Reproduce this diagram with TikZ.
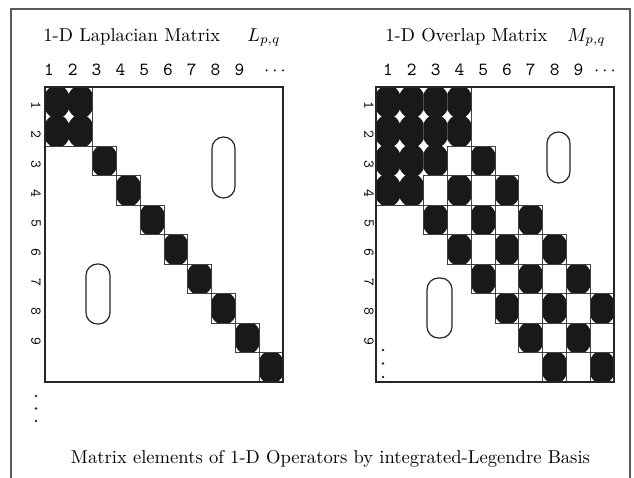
\documentclass[tikz,border=0pt]{standalone}
\newcommand\mxB[2]{\begin{scope}\clip (#1-1,#2-1) rectangle (#1,#2);\fill[cellfill] (#1-0.5,#2-0.5) ellipse [x radius=13.5pt,y radius=16.7pt];\end{scope}}
\newcommand\mxBox[2]{\draw[cellline] (#1-1,#2-1) rectangle (#1,#2);}
\begin{document}
\begin{tikzpicture}[x=1pt,y=-1pt,
  frameline/.style={draw=black!65, line width=1.2pt},
  mxborder/.style={draw=black!85, line width=1.6pt},
  cellline/.style={draw=black!75, line width=0.9pt},
  cellfill/.style={fill=black!90},
  ovalline/.style={draw=black!85, line width=1.2pt, rounded corners=11.4pt},
  titletext/.style={font=\fontsize{10}{12}\selectfont, inner sep=0pt, scale=1.86},
  collabel/.style={font=\ttfamily\fontsize{10}{12}\selectfont, inner sep=0pt, anchor=base, scale=1.85},
  rowlabel/.style={font=\ttfamily\fontsize{10}{12}\selectfont, inner sep=0pt, rotate=-90, scale=1.5},
  vdot/.style={fill=black!85},
]
\useasboundingbox (0,0) rectangle (634,477);
\fill[white] (0,0) rectangle (634,477);
\draw[frameline] (11,478) -- (11,9) -- (630,9) -- (630,478);

% titles
\node[titletext, anchor=base west] (tL) at (43,41) {1-D Laplacian Matrix};
\node[titletext, anchor=base west] (sL) at (247,41) {$L_{p,q}$};
\node[titletext, anchor=base west] (tM) at (385,41) {1-D Overlap Matrix};
\node[titletext, anchor=base west] (sM) at (567,41) {$M_{p,q}$};

% column labels
\foreach \i in {1,...,9}{
  \node[collabel] (cL\i) at ({49+23.8*(\i-1)},75) {\i};
  \node[collabel] (cM\i) at ({388+23.8*(\i-1)},75) {\i};
}
\node[collabel] (cdL) at (275,75) {$\cdots$};
\node[collabel] (cdM) at (605,75) {$\cdots$};

% row labels
\foreach \r in {1,...,9}{
  \node[rowlabel] (rL\r) at (36,{87+(\r-0.5)*29.5+3.5}) {\r};
  \node[rowlabel] (rM\r) at (369,{87+(\r-0.5)*29.5+3.5}) {\r};
}

% Laplacian matrix
\begin{scope}[shift={(45pt,-87pt)},x=23.8pt,y=-29.5pt]
  \fill[white] (0,0) rectangle (10,10);
  \foreach \c in {1,2}{\foreach \r in {1,2}{\mxB{\c}{\r}}}
  \draw[cellline] (0,0) rectangle (2,2);
  \foreach \k in {3,...,10}{\mxB{\k}{\k}\mxBox{\k}{\k}}
  \draw[mxborder] (0,0) rectangle (10,10);
\end{scope}

% Overlap matrix
\begin{scope}[shift={(376pt,-87pt)},x=23.8pt,y=-29.5pt]
  \fill[white] (0,0) rectangle (10,10);
  \foreach \c/\r in {1/1,2/1,3/1,4/1,1/2,2/2,3/2,4/2,1/3,2/3,3/3,1/4,2/4}{\mxB{\c}{\r}}
  \draw[cellline] (0,0) -| (4,2) -| (3,3) -| (2,4) -| (0,0) -- cycle;
  \foreach \c/\r in {5/3,4/4,6/4,3/5,5/5,7/5,4/6,6/6,8/6,5/7,7/7,9/7,6/8,8/8,10/8,7/9,9/9,8/10,10/10}{\mxB{\c}{\r}\mxBox{\c}{\r}}
  \foreach \c/\r in {4/3,3/4,5/4,4/5,6/5,5/6,7/6,6/7,8/7,7/8,9/8,8/9,10/9,9/10}{\mxBox{\c}{\r}}
  \draw[mxborder] (0,0) rectangle (10,10);
\end{scope}

% zero-region ovals
\draw[ovalline] (212,137) rectangle (235,198);
\draw[ovalline] (86,264) rectangle (110,324);
\draw[ovalline] (547,132) rectangle (570,183);
\draw[ovalline] (427,278) rectangle (452,338);

% vertical dots
\foreach \y in {396,408.5,421}{\fill[vdot] (36,\y) circle[radius=1.3pt];}
\foreach \y in {350,363.5,377}{\fill[vdot] (383,\y) circle[radius=1.3pt];}

% caption
\node[titletext, anchor=base] (cap) at (330.5,463) {Matrix elements of 1-D Operators by integrated-Legendre Basis};
\end{tikzpicture}
\end{document}
